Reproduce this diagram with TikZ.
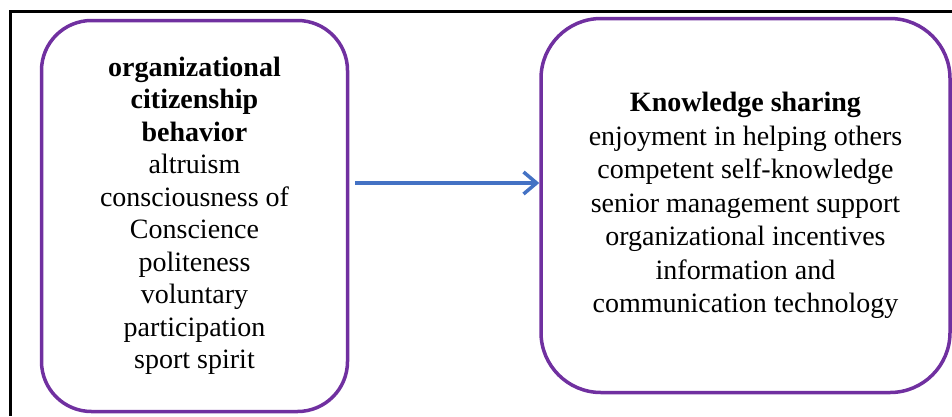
\documentclass[tikz,border=0pt]{standalone}
\usepackage{fontspec}
\setmainfont{Liberation Serif}
\usetikzlibrary{calc,arrows.meta}
\definecolor{boxpurple}{HTML}{7030A0}
\definecolor{arrowblue}{HTML}{4472C4}

\begin{document}
\begin{tikzpicture}[x=1pt,y=-1pt,
  factor/.style={draw=boxpurple,line width=3.5pt,rectangle,align=center,inner sep=0pt,
    font=\fontsize{28}{32.5}\selectfont},
  link/.style={draw=arrowblue,line width=3.5pt,-{Straight Barb[length=13pt,width=22pt]}}]
\useasboundingbox (0,0) rectangle (952,416);
\draw[line width=3.5pt] (952,11.5) -| (10.5,416);

\node [factor,minimum width=306pt,minimum height=391pt,rounded corners=50pt] (ocb) at (194.5,216)
  {\textbf{organizational}\\ \textbf{citizenship}\\ \textbf{behavior}\\ altruism\\ consciousness of\\
   Conscience\\ politeness\\ voluntary\\ participation\\ sport spirit};
\node [factor,minimum width=409pt,minimum height=374pt,rounded corners=60pt,
  font=\fontsize{28}{33.5}\selectfont] (ks) at (745.5,205.5)
  {\textbf{Knowledge sharing}\\ enjoyment in helping others\\ competent self-knowledge\\
   senior management support\\ organizational incentives\\ information and\\ communication technology};

\draw[link] ($ (ocb.east)+(6,-33) $) -- ($ (ks.west)+(0,-22.5) $);

\end{tikzpicture}
\end{document}
